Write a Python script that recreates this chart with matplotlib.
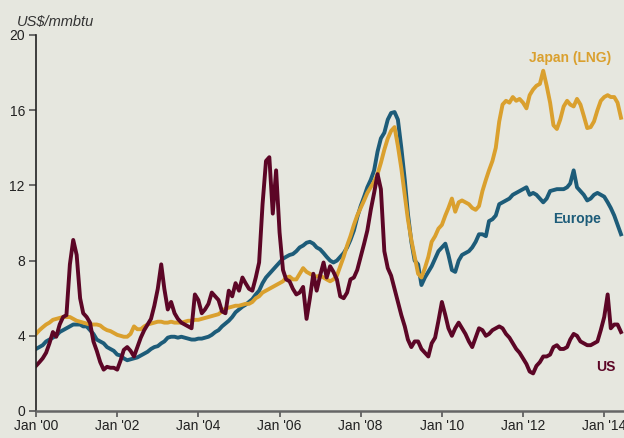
import matplotlib
matplotlib.use("Agg")
import matplotlib.pyplot as plt
import pandas as pd

# monthly prices, Jan 2000 - Jun 2014 (US$/mmbtu)
months = pd.date_range("2000-01-01", periods=174, freq="MS")

us = [
    2.4, 2.6, 2.8, 3.1, 3.6, 4.2, 3.95, 4.6, 5.0, 5.1, 7.8, 9.1,      # 2000
    8.3, 6.0, 5.2, 5.0, 4.7, 3.7, 3.2, 2.6, 2.2, 2.35, 2.3, 2.3,      # 2001
    2.2, 2.7, 3.25, 3.4, 3.2, 2.9, 3.4, 3.9, 4.3, 4.6, 4.9, 5.6,      # 2002
    6.5, 7.8, 6.5, 5.4, 5.8, 5.2, 4.9, 4.7, 4.6, 4.5, 4.4, 6.2,       # 2003
    5.9, 5.2, 5.4, 5.7, 6.3, 6.1, 5.9, 5.3, 5.2, 6.4, 6.1, 6.8,       # 2004
    6.4, 7.1, 6.8, 6.5, 6.4, 7.1, 7.9, 11.0, 13.3, 13.5, 10.5, 12.8,  # 2005
    9.5, 7.5, 7.0, 6.9, 6.5, 6.2, 6.3, 6.6, 4.9, 6.0, 7.3, 6.4,       # 2006
    7.2, 7.9, 7.1, 7.7, 7.4, 7.0, 6.1, 6.0, 6.3, 7.0, 7.1, 7.5,       # 2007
    8.2, 8.9, 9.6, 10.7, 11.6, 12.6, 11.8, 8.5, 7.6, 7.2, 6.5, 5.8,   # 2008
    5.1, 4.5, 3.8, 3.4, 3.7, 3.7, 3.3, 3.1, 2.9, 3.6, 3.9, 4.8,       # 2009
    5.8, 5.1, 4.4, 4.0, 4.4, 4.7, 4.4, 4.1, 3.7, 3.4, 3.9, 4.4,       # 2010
    4.3, 4.0, 4.1, 4.3, 4.4, 4.5, 4.4, 4.1, 3.9, 3.6, 3.3, 3.1,       # 2011
    2.8, 2.5, 2.1, 2.0, 2.4, 2.6, 2.9, 2.9, 3.0, 3.4, 3.5, 3.3,       # 2012
    3.3, 3.4, 3.8, 4.1, 4.0, 3.7, 3.6, 3.5, 3.5, 3.6, 3.7, 4.3,       # 2013
    5.0, 6.2, 4.4, 4.6, 4.6, 4.2,                                     # 2014
]

europe = [
    3.3, 3.4, 3.5, 3.7, 3.8, 3.9, 4.0, 4.2, 4.3, 4.4, 4.5, 4.6,
    4.6, 4.6, 4.5, 4.5, 4.3, 4.1, 3.8, 3.7, 3.6, 3.4, 3.3, 3.2,
    3.0, 2.95, 2.8, 2.7, 2.75, 2.8, 2.85, 2.95, 3.05, 3.15, 3.3, 3.4,
    3.45, 3.6, 3.7, 3.9, 3.95, 3.95, 3.9, 3.95, 3.9, 3.85, 3.8, 3.8,
    3.85, 3.85, 3.9, 3.95, 4.05, 4.2, 4.3, 4.5, 4.65, 4.8, 5.0, 5.25,
    5.4, 5.55, 5.65, 5.8, 5.95, 6.2, 6.4, 6.8, 7.1, 7.3, 7.5, 7.7,
    7.9, 8.1, 8.2, 8.3, 8.35, 8.5, 8.7, 8.8, 8.95, 9.0, 8.9, 8.7,
    8.6, 8.4, 8.2, 8.0, 7.9, 8.0, 8.2, 8.4, 8.7, 9.1, 9.6, 10.3,
    10.9, 11.4, 11.9, 12.3, 12.8, 13.8, 14.5, 14.8, 15.5, 15.85, 15.9, 15.5,
    14.0, 12.3, 10.5, 9.0, 8.0, 7.8, 6.7, 7.1, 7.4, 7.7, 8.1, 8.5,
    8.7, 8.9, 8.3, 7.5, 7.4, 8.0, 8.3, 8.4, 8.5, 8.7, 9.0, 9.4,
    9.4, 9.3, 10.1, 10.2, 10.4, 11.0, 11.1, 11.2, 11.3, 11.5, 11.6, 11.7,
    11.8, 11.9, 11.5, 11.6, 11.5, 11.3, 11.1, 11.3, 11.7, 11.75, 11.8, 11.8,
    11.8, 11.9, 12.1, 12.8, 11.9, 11.7, 11.5, 11.2, 11.3, 11.5, 11.6, 11.5,
    11.4, 11.1, 10.8, 10.4, 9.9, 9.4,
]

japan = [
    4.1, 4.3, 4.45, 4.6, 4.7, 4.85, 4.9, 4.95, 5.0, 5.0, 5.0, 4.9,
    4.8, 4.75, 4.7, 4.65, 4.6, 4.6, 4.6, 4.55, 4.4, 4.3, 4.25, 4.15,
    4.05, 4.0, 3.95, 3.95, 4.1, 4.5, 4.35, 4.35, 4.5, 4.6, 4.65, 4.7,
    4.75, 4.75, 4.7, 4.7, 4.75, 4.7, 4.7, 4.7, 4.75, 4.8, 4.8, 4.85,
    4.85, 4.9, 4.95, 5.0, 5.05, 5.1, 5.15, 5.3, 5.45, 5.5, 5.55, 5.6,
    5.6, 5.65, 5.7, 5.7, 5.8, 6.0, 6.1, 6.3, 6.4, 6.5, 6.6, 6.7,
    6.8, 6.9, 7.1, 7.15, 7.0, 7.0, 7.3, 7.6, 7.4, 7.3, 7.2, 7.15,
    7.2, 7.1, 7.0, 6.9, 7.0, 7.2, 7.7, 8.2, 8.8, 9.3, 9.9, 10.4,
    10.8, 11.2, 11.6, 11.9, 12.2, 12.6, 13.2, 13.9, 14.5, 14.9, 15.1, 14.1,
    12.9, 11.5, 10.2, 9.1, 8.2, 7.3, 7.1, 7.6, 8.2, 9.0, 9.3, 9.7,
    9.9, 10.4, 10.8, 11.3, 10.6, 11.1, 11.2, 11.1, 11.0, 10.8, 10.7, 10.9,
    11.7, 12.3, 12.8, 13.3, 14.0, 15.4, 16.3, 16.5, 16.4, 16.7, 16.5, 16.6,
    16.4, 16.1, 16.8, 17.1, 17.3, 17.4, 18.1, 17.3, 16.4, 15.2, 15.0, 15.5,
    16.2, 16.5, 16.3, 16.2, 16.6, 16.3, 15.7, 15.05, 15.1, 15.4, 16.0, 16.5,
    16.7, 16.8, 16.7, 16.7, 16.4, 15.6,
]

tick_years = [2000, 2002, 2004, 2006, 2008, 2010, 2012, 2014]
y_ticks = [0, 4, 8, 12, 16, 20]

bg = "#e6e7df"
c_us = "#5c0626"
c_eu = "#1d5c79"
c_jp = "#daa02e"

plt.rcParams["font.family"] = ["Liberation Sans", "DejaVu Sans"]

fig = plt.figure(figsize=(6.24, 4.38), dpi=100, facecolor=bg)
ax = fig.add_axes([36 / 624, 27 / 438, 588 / 624, 376 / 438], facecolor=bg)

ax.plot(months, europe, color=c_eu, lw=2.8, solid_joinstyle="round")
ax.plot(months, japan, color=c_jp, lw=2.8, solid_joinstyle="round")
ax.plot(months, us, color=c_us, lw=2.8, solid_joinstyle="round")

ax.set_ylim(0, 20)
ax.set_xlim(pd.Timestamp("2000-01-01"), pd.Timestamp("2014-06-28"))
ax.set_yticks(y_ticks)
ax.set_xticks([pd.Timestamp(f"{y}-01-01") for y in tick_years])
ax.set_xticklabels([f"Jan '{str(y)[2:]}" for y in tick_years])

for s in ["top", "right"]:
    ax.spines[s].set_visible(False)
ax.spines["left"].set_color("#222222")
ax.spines["left"].set_linewidth(1.2)
ax.spines["bottom"].set_color("#666666")
ax.spines["bottom"].set_linewidth(1.8)
ax.tick_params(axis="y", length=5, width=1.2, color="#555555", pad=3,
               labelsize=10, labelcolor="#222222")
ax.tick_params(axis="x", length=4, width=1.2, color="#555555", pad=2,
               labelsize=10, labelcolor="#222222")

fig.text(17 / 624, 1 - 22 / 438, "US$/mmbtu", fontsize=10.5, style="italic",
         color="#333333", va="center", ha="left")

ax.text(pd.Timestamp("2013-03-01"), 18.8, "Japan (LNG)", color=c_jp,
        fontsize=10, fontweight="bold", ha="center", va="center")
ax.text(pd.Timestamp("2013-05-01"), 10.2, "Europe", color=c_eu,
        fontsize=10, fontweight="bold", ha="center", va="center")
ax.text(pd.Timestamp("2014-01-15"), 2.35, "US", color=c_us,
        fontsize=10, fontweight="bold", ha="center", va="center")

fig.savefig("out.png", dpi=100, facecolor=bg)
